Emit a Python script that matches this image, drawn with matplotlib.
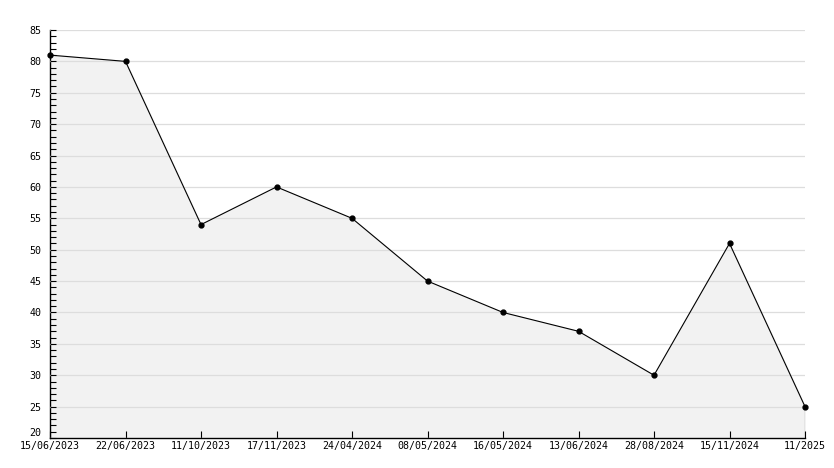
import matplotlib
matplotlib.use("Agg")
import matplotlib.pyplot as plt
from matplotlib.ticker import MultipleLocator

dates = ["15/06/2023", "22/06/2023", "11/10/2023", "17/11/2023", "24/04/2024",
         "08/05/2024", "16/05/2024", "13/06/2024", "28/08/2024", "15/11/2024",
         "11/2025"]
values = [81, 80, 54, 60, 55, 45, 40, 37, 30, 51, 25]
yticks = list(range(20, 86, 5))

plt.rcParams["font.family"] = "DejaVu Sans Mono"
fig = plt.figure(figsize=(8.34, 4.68), dpi=100)
ax = fig.add_axes([50 / 834, 30 / 468, 755 / 834, 408 / 468])

x = list(range(len(values)))
ax.fill_between(x, values, 20, color="#f2f2f2", zorder=1)
ax.plot(x, values, color="black", lw=0.8, marker="o", markersize=3.5,
        zorder=3, clip_on=False)
ax.vlines(x[-1], 20, values[-1], color="black", lw=0.8, zorder=3)

ax.set_xlim(0, len(values) - 1)
ax.set_ylim(20, 85)
ax.set_xticks(x)
ax.set_xticklabels(dates)
ax.set_yticks(yticks)
ax.set_yticklabels([str(v) for v in yticks])
ax.yaxis.set_minor_locator(MultipleLocator(1))
ax.grid(axis="y", color="#dddddd", lw=0.9, zorder=2)
ax.set_axisbelow(False)

for s in ["top", "right"]:
    ax.spines[s].set_visible(False)
ax.spines["left"].set_linewidth(1)
ax.spines["bottom"].set_linewidth(1)

ax.tick_params(axis="x", direction="in", length=5, width=0.8, labelsize=7.2, pad=2)
ax.tick_params(axis="y", which="both", direction="in", length=4, width=0.8,
               labelsize=7.2, pad=6)
ax.get_yticklabels()[0].set_verticalalignment("bottom")

fig.savefig("out.png", dpi=100)
